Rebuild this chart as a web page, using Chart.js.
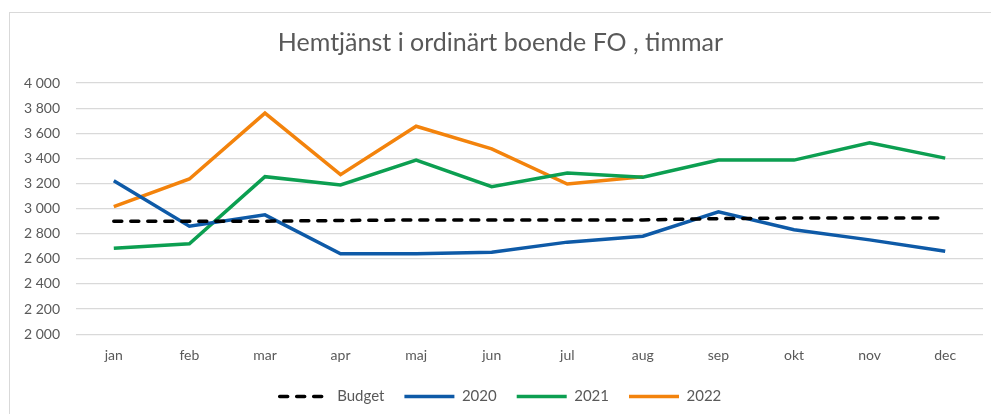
<!DOCTYPE html>
<html>
<head>
<meta charset="utf-8">
<script src="https://cdn.jsdelivr.net/npm/chart.js@4/dist/chart.umd.min.js"></script>
<style>
  html, body { margin: 0; padding: 0; background: #fff; }
  #wrap { position: relative; width: 991px; height: 414px; overflow: hidden; }
  #frame { position: absolute; left: 9px; top: 12px; width: 1000px; height: 420px; border: 1px solid #d9d9d9; box-sizing: border-box; }
  canvas { position: absolute; left: 0; top: 0; }
</style>
</head>
<body>
<div id="wrap">
  <div id="frame"></div>
  <canvas id="chart" width="991" height="414"></canvas>
</div>
<script>
// months on the x axis
const months = ['jan', 'feb', 'mar', 'apr', 'maj', 'jun', 'jul', 'aug', 'sep', 'okt', 'nov', 'dec'];

// hours per month
const budget = [2900, 2900, 2900, 2905, 2910, 2910, 2910, 2910, 2920, 2925, 2925, 2925];
const y2020 = [3222, 2860, 2950, 2640, 2640, 2653, 2733, 2780, 2974, 2831, 2751, 2661];
const y2021 = [2685, 2720, 3254, 3188, 3386, 3175, 3283, 3249, 3386, 3386, 3524, 3402];
const y2022 = [3016, 3236, 3760, 3270, 3656, 3475, 3196, 3254, null, null, null, null];

const textColor = '#595959';
const font = 'Lato, "Open Sans", sans-serif';

function line(label, data, color, dash) {
    return {
        label: label,
        data: data,
        borderColor: color,
        backgroundColor: color,
        borderWidth: 3.5,
        borderDash: dash || [],
        borderCapStyle: dash ? 'round' : 'butt',
        pointRadius: 0,
        tension: 0,
        spanGaps: false
    };
}

const ctx = document.getElementById('chart').getContext('2d');
new Chart(ctx, {
    type: 'line',
    data: {
        labels: months,
        datasets: [
            line('Budget', budget, '#000000', [8, 9]),
            line('2020', y2020, '#0e5aa7'),
            line('2021', y2021, '#0c9f51'),
            line('2022', y2022, '#f3830c')
        ]
    },
    options: {
        responsive: false,
        animation: false,
        layout: { padding: { left: 18, right: 8, top: 14, bottom: 0 } },
        plugins: {
            title: {
                display: true,
                text: 'Hemtjänst i ordinärt boende FO , timmar',
                color: textColor,
                font: { family: font, size: 25, weight: 'normal' },
                padding: { top: 14, bottom: 25 }
            },
            legend: {
                position: 'bottom',
                labels: {
                    color: textColor,
                    font: { family: font, size: 15 },
                    usePointStyle: true,
                    pointStyle: 'line',
                    pointStyleWidth: 50,
                    boxWidth: 50,
                    boxHeight: 12,
                    padding: 20,
                    // point style legend ignores the dataset dash, so add it back
                    generateLabels: function (chart) {
                        const items = Chart.defaults.plugins.legend.labels.generateLabels(chart);
                        items.forEach(function (it) {
                            const ds = chart.data.datasets[it.datasetIndex];
                            it.lineDash = ds.borderDash;
                            it.lineCap = ds.borderCapStyle;
                            it.lineWidth = ds.borderWidth;
                        });
                        return items;
                    }
                }
            },
            tooltip: { enabled: false }
        },
        scales: {
            x: {
                offset: true,
                grid: { display: false },
                border: { display: false },
                ticks: { color: textColor, font: { family: font, size: 14 }, padding: 5 }
            },
            y: {
                min: 2000,
                max: 4000,
                afterFit: function (scale) { scale.width = 58; },
                grid: { color: '#d9d9d9', lineWidth: 1.2, drawTicks: false },
                border: { display: false },
                ticks: {
                    stepSize: 200,
                    color: textColor,
                    font: { family: font, size: 14 },
                    padding: 16,
                    callback: function (v) { return String(v).replace(/\B(?=(\d{3})+(?!\d))/g, ' '); }
                }
            }
        }
    }
});
</script>
</body>
</html>
